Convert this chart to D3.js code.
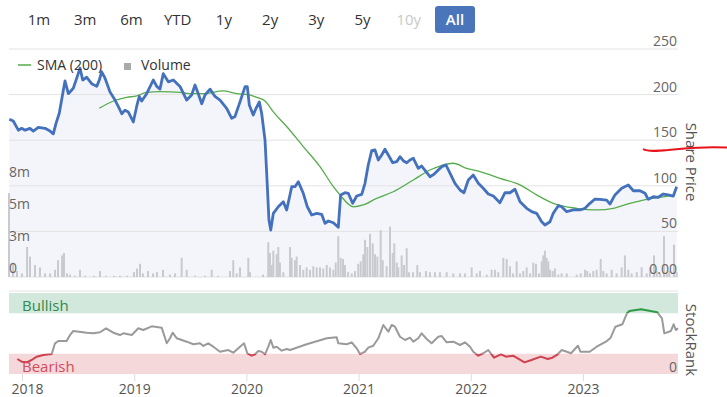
<!DOCTYPE html>
<html><head><meta charset="utf-8">
<script src="https://cdn.jsdelivr.net/npm/d3@7/dist/d3.min.js"></script>
<style>
html,body{margin:0;padding:0;background:#fff;}
svg{display:block;font-family:"Open Sans",Roboto,sans-serif;}
</style></head>
<body>
<svg id="c" width="727" height="397"></svg>
<script>
// ---- data (time as decimal years) ----
const rangeButtons = ["1m","3m","6m","YTD","1y","2y","3y","5y","10y","All"];
const yearTicks = [2018,2019,2020,2021,2022,2023];
const priceTicks = [0,50,100,150,200,250];
const volumeTicks = [0, 2.667, 5.333, 8];
const volumeTickLabels = ["0","3m","5m","8m"];

const priceT = [2017.887,2017.922,2017.967,2017.997,2018.027,2018.071,2018.101,2018.145,2018.205,2018.250,2018.279,2018.303,2018.332,2018.383,2018.413,2018.457,2018.493,2018.517,2018.541,2018.577,2018.621,2018.666,2018.689,2018.710,2018.740,2018.784,2018.829,2018.858,2018.889,2018.918,2018.947,2018.992,2019.022,2019.045,2019.067,2019.111,2019.170,2019.201,2019.230,2019.259,2019.304,2019.349,2019.408,2019.468,2019.512,2019.542,2019.571,2019.602,2019.631,2019.676,2019.720,2019.765,2019.824,2019.869,2019.898,2019.943,2019.988,2020.008,2020.026,2020.061,2020.086,2020.115,2020.136,2020.166,2020.181,2020.201,2020.217,2020.240,2020.284,2020.329,2020.359,2020.404,2020.433,2020.463,2020.507,2020.543,2020.582,2020.627,2020.671,2020.701,2020.730,2020.775,2020.819,2020.840,2020.879,2020.908,2020.947,2020.983,2021.028,2021.057,2021.086,2021.117,2021.146,2021.176,2021.206,2021.235,2021.265,2021.304,2021.340,2021.369,2021.398,2021.429,2021.458,2021.488,2021.532,2021.562,2021.601,2021.636,2021.672,2021.710,2021.741,2021.779,2021.808,2021.859,2021.904,2021.939,2021.978,2022.022,2022.067,2022.111,2022.156,2022.201,2022.260,2022.305,2022.349,2022.394,2022.439,2022.498,2022.543,2022.587,2022.632,2022.661,2022.706,2022.735,2022.780,2022.810,2022.855,2022.914,2022.973,2023.018,2023.062,2023.107,2023.152,2023.211,2023.241,2023.285,2023.345,2023.404,2023.449,2023.508,2023.553,2023.582,2023.627,2023.671,2023.716,2023.760,2023.805,2023.835];
const priceV = [173,171,161,163,161,163,160,164,163,160,157,168.5,179.5,215,201,207,220,229,216,219,212,209,216,225,218,203,194,187,179,183,181,170,187,198,193,201,216,209,206,223,214,216,209,194,199.6,210.5,201,190,199.6,206,198,194,185,174,176,192,208.7,208.7,188.6,177.6,185,192,179.5,150,113.7,62.5,51.5,69.8,77,82.6,73.5,99,99,104.5,91.8,77,68,69.8,68.7,58.8,61.4,59.5,54.5,90,92.4,91.8,80.8,88.8,90.6,102.7,122.8,138.5,139.3,128.3,133.8,140,133.8,125.3,126.5,131.9,127.5,125.3,128.3,130.2,119.2,121.7,115.5,110,112.6,117.3,121,122.8,115.5,102.7,95.4,92.4,106.4,111.8,102.7,97.3,91,88.8,81.5,92.4,92.4,96.2,82.6,75.3,71.6,69.8,60.6,57,60.6,69.8,78.2,77,71.6,73.5,73.5,75.3,80.8,85.5,85.2,84.4,80,90,97.3,100.9,94.6,94.6,91.8,85.2,88,87.4,91,90,88.8,99];

const smaT = [2018.689,2018.814,2018.933,2019.022,2019.111,2019.230,2019.408,2019.497,2019.616,2019.794,2019.914,2020.017,2020.092,2020.166,2020.240,2020.359,2020.507,2020.656,2020.775,2020.834,2020.953,2021.042,2021.161,2021.309,2021.488,2021.636,2021.725,2021.844,2021.963,2022.082,2022.260,2022.439,2022.587,2022.735,2022.944,2023.122,2023.272,2023.419,2023.568,2023.686,2023.820];
const smaV = [185,193,197,198.5,202.5,203.2,202.5,201,201,204,201,200,197,193,181,165,143,121,99,90,77,79,86.3,93.5,106.4,117.3,121.7,124.7,119.2,115.5,108.2,101,90,80.8,75.3,73.5,75.3,80.8,85.2,87.4,90];

const volT = [2017.884,2017.920,2017.955,2018.000,2018.045,2018.071,2018.116,2018.160,2018.205,2018.250,2018.294,2018.321,2018.357,2018.374,2018.401,2018.428,2018.472,2018.517,2018.561,2018.642,2018.695,2018.749,2018.820,2018.873,2018.936,2018.998,2019.025,2019.052,2019.078,2019.123,2019.168,2019.203,2019.257,2019.319,2019.364,2019.423,2019.468,2019.542,2019.631,2019.691,2019.747,2019.854,2019.883,2019.914,2019.943,2020.017,2020.032,2020.148,2020.195,2020.210,2020.225,2020.240,2020.270,2020.284,2020.299,2020.329,2020.389,2020.404,2020.433,2020.448,2020.478,2020.507,2020.537,2020.567,2020.596,2020.627,2020.656,2020.685,2020.716,2020.745,2020.775,2020.796,2020.819,2020.840,2020.861,2020.879,2020.906,2020.939,2020.968,2020.997,2021.019,2021.042,2021.057,2021.078,2021.102,2021.126,2021.146,2021.167,2021.197,2021.215,2021.250,2021.280,2021.304,2021.318,2021.340,2021.354,2021.384,2021.405,2021.429,2021.449,2021.485,2021.523,2021.547,2021.601,2021.636,2021.681,2021.725,2021.785,2021.844,2021.904,2021.948,2022.008,2022.053,2022.082,2022.142,2022.186,2022.216,2022.245,2022.290,2022.320,2022.349,2022.376,2022.409,2022.439,2022.468,2022.498,2022.528,2022.557,2022.581,2022.608,2022.632,2022.646,2022.661,2022.676,2022.691,2022.706,2022.730,2022.750,2022.780,2022.810,2022.855,2022.944,2022.980,2023.018,2023.038,2023.062,2023.092,2023.122,2023.158,2023.181,2023.211,2023.256,2023.300,2023.345,2023.374,2023.404,2023.434,2023.479,2023.523,2023.568,2023.597,2023.633,2023.657,2023.686,2023.722,2023.746,2023.769,2023.811,2023.835];
const volV = [7.0,1.2,0.5,0.3,2.5,1.7,1.0,0.8,0.3,0.3,0.6,1.4,1.8,2.0,0.3,0.2,0.1,0.6,0.1,0.1,0.5,0.1,0.1,0.1,0.1,0.4,0.7,1.1,0.3,0.5,0.3,0.4,0.6,0.2,0.3,1.6,0.6,0.1,0.1,0.6,0.1,0.5,1.4,0.3,0.8,1.6,0.4,0.2,2.9,2.0,1.0,2.2,1.9,2.5,1.2,0.4,2.5,1.6,1.4,1.7,1.0,0.6,0.8,0.6,0.9,0.8,0.8,0.7,1.0,0.8,0.6,1.2,3.4,1.6,1.5,1.0,0.4,0.3,0.5,1.1,1.3,1.9,3.1,2.5,3.6,2.8,1.9,1.7,3.9,1.4,0.9,4.2,2.0,2.8,1.2,0.8,1.8,1.0,2.4,0.4,0.4,1.0,0.4,0.5,0.4,0.4,0.4,0.4,0.3,0.3,0.3,0.8,0.3,0.5,0.2,0.6,0.6,0.4,1.6,1.5,0.9,0.3,1.3,0.3,0.5,0.8,0.3,1.2,1.1,0.3,1.3,1.8,2.2,1.6,1.3,0.6,0.5,0.7,0.2,0.3,0.3,0.2,0.3,0.6,0.5,0.3,0.5,0.6,1.5,0.5,0.3,0.6,0.3,0.8,1.8,0.6,0.3,0.4,0.8,0.3,0.8,1.8,0.5,0.3,3.4,0.3,0.5,2.7,0.4];

const rankT = [2017.958,2017.997,2018.042,2018.086,2018.131,2018.190,2018.265,2018.294,2018.324,2018.398,2018.428,2018.457,2018.577,2018.635,2018.695,2018.749,2018.814,2018.873,2018.903,2018.978,2019.037,2019.081,2019.156,2019.245,2019.290,2019.319,2019.343,2019.379,2019.468,2019.527,2019.586,2019.616,2019.660,2019.705,2019.765,2019.839,2019.883,2019.943,2019.979,2020.008,2020.047,2020.077,2020.106,2020.136,2020.166,2020.195,2020.217,2020.240,2020.270,2020.315,2020.359,2020.389,2020.537,2020.716,2020.805,2020.819,2020.894,2020.939,2020.983,2021.013,2021.057,2021.086,2021.131,2021.176,2021.220,2021.265,2021.295,2021.324,2021.369,2021.414,2021.458,2021.488,2021.532,2021.562,2021.607,2021.651,2021.710,2021.741,2021.785,2021.844,2021.904,2021.948,2021.993,2022.022,2022.067,2022.111,2022.156,2022.207,2022.269,2022.314,2022.376,2022.479,2022.541,2022.624,2022.686,2022.727,2022.768,2022.811,2022.893,2022.955,2022.977,2023.060,2023.122,2023.205,2023.247,2023.289,2023.351,2023.392,2023.414,2023.517,2023.662,2023.704,2023.725,2023.784,2023.808,2023.829,2023.847];
const rankV = [18.5,15.2,14.4,17.3,21.4,23.5,24.7,37.9,40.7,40.7,48.1,53.1,51,50.2,51.5,56.4,51,48.1,50.2,48.1,56.4,54.3,58.9,57.2,37.9,44.1,51,44.1,39.9,36.7,37.9,34.6,37.9,33.7,27.5,29.6,26.3,33.7,37.9,25.6,22.6,24.3,28.4,27.5,24.3,33.7,42,32.5,33.7,28.8,30.9,29.6,36.7,44.1,45.3,37.9,36.7,39.1,31.7,24.6,27.5,32.5,34.9,44.1,60.5,52.2,60.5,58.4,46,42,44.8,39.9,44.1,50.2,43.2,37.9,46,46.9,39.1,39.9,35.8,39.1,33.7,27.5,22.6,25.6,29.6,20.1,24.3,21.4,22.6,14.4,17.3,21.4,18.5,20.1,23.5,29.6,25.6,34.9,27.5,27.5,33.7,39.9,44.8,58.4,61.4,74.9,77.8,79.9,76.2,68.8,50.2,53.1,61.4,54.3,56.4];

// ---- drawing ----
const svg = d3.select("#c");
const L = 9, R = 678;
const x = d3.scaleLinear().domain([2017.884, 2023.847]).range([L, R]);
const yP = d3.scaleLinear().domain([0, 250]).range([277, 49]);
const yV = d3.scaleLinear().domain([0, 8]).range([277, 181]);
const yR = d3.scaleLinear().domain([0, 100]).range([374, 293]);

// range buttons
const btnX = d3.scalePoint().domain(rangeButtons).range([39, 455]);
rangeButtons.forEach(b => {
  const cx = btnX(b);
  if (b === "All") {
    svg.append("rect").attr("x", cx - 20).attr("y", 6).attr("width", 40).attr("height", 27)
      .attr("rx", 3).attr("fill", "#4a75ba");
  }
  svg.append("text").attr("x", cx).attr("y", 25).attr("text-anchor", "middle")
    .attr("font-size", 15)
    .attr("font-weight", b === "All" ? 600 : 400)
    .attr("fill", b === "All" ? "#fff" : (b === "10y" ? "#c8c8c8" : "#333"))
    .text(b);
});

const pricePts = priceT.map((t, i) => [t, priceV[i]]);
const smaPts = smaT.map((t, i) => [t, smaV[i]]);
const rankPts = rankT.map((t, i) => [t, rankV[i]]);

// price area fill
svg.append("path").datum(pricePts)
  .attr("d", d3.area().x(d => x(d[0])).y0(yP(0)).y1(d => yP(d[1])))
  .attr("fill", "#f3f5fa");

// grid
svg.selectAll(".grid").data(priceTicks).join("line")
  .attr("x1", L).attr("x2", R).attr("y1", d => yP(d)).attr("y2", d => yP(d))
  .attr("stroke", "#e3e3e3").attr("stroke-width", 1);

// volume bars
svg.append("g").selectAll("rect").data(volT.map((t, i) => [t, volV[i]])).join("rect")
  .attr("x", d => x(d[0]) - 1).attr("width", 2)
  .attr("y", d => yV(d[1])).attr("height", d => yV(0) - yV(d[1]))
  .attr("fill", "#c9cad0");

// SMA
svg.append("path").datum(smaPts)
  .attr("d", d3.line().x(d => x(d[0])).y(d => yP(d[1])).curve(d3.curveMonotoneX))
  .attr("fill", "none").attr("stroke", "#55ad4a").attr("stroke-width", 1.3);

// price line
svg.append("path").datum(pricePts)
  .attr("d", d3.line().x(d => x(d[0])).y(d => yP(d[1])))
  .attr("fill", "none").attr("stroke", "#4471bd").attr("stroke-width", 2.8)
  .attr("stroke-linejoin", "round");

// price axis labels (right)
priceTicks.forEach(v => {
  svg.append("text").attr("x", 677).attr("y", yP(v) - 3).attr("text-anchor", "end")
    .attr("font-size", 14).attr("fill", "#666")
    .text(v === 0 ? "0.00" : v);
});
// volume axis labels (left)
volumeTicks.forEach((v, i) => {
  svg.append("text").attr("x", 9).attr("y", yV(v) - 4)
    .attr("font-size", 14).attr("fill", "#666").text(volumeTickLabels[i]);
});

// axis titles
svg.append("text").attr("transform", "translate(686,162) rotate(90)")
  .attr("text-anchor", "middle").attr("font-size", 15).attr("fill", "#555").text("Share Price");
svg.append("text").attr("transform", "translate(686,340) rotate(90)")
  .attr("text-anchor", "middle").attr("font-size", 15).attr("fill", "#555").text("StockRank");

// legend
svg.append("line").attr("x1", 18).attr("x2", 31).attr("y1", 65).attr("y2", 65)
  .attr("stroke", "#55ad4a").attr("stroke-width", 1.5);
svg.append("text").attr("x", 37).attr("y", 70).attr("font-size", 14).attr("fill", "#333").text("SMA (200)");
svg.append("rect").attr("x", 124).attr("y", 63).attr("width", 7).attr("height", 7).attr("fill", "#aaa");
svg.append("text").attr("x", 141).attr("y", 70).attr("font-size", 14).attr("fill", "#333").text("Volume");

// ---- StockRank panel ----
svg.append("line").attr("x1", L).attr("x2", R).attr("y1", 291).attr("y2", 291)
  .attr("stroke", "#e3e3e3");
svg.append("rect").attr("x", L).attr("width", R - L).attr("y", yR(100)).attr("height", yR(75) - yR(100))
  .attr("fill", "#d3e8dc");
svg.append("rect").attr("x", L).attr("width", R - L).attr("y", yR(25)).attr("height", yR(0) - yR(25))
  .attr("fill", "#f5d8da");
svg.append("text").attr("x", 22).attr("y", 311).attr("font-size", 15).attr("fill", "#2f8a4c").text("Bullish");
svg.append("text").attr("x", 22).attr("y", 372).attr("font-size", 15).attr("fill", "#d34a5c").text("Bearish");
svg.append("text").attr("x", 677).attr("y", 372).attr("text-anchor", "end")
  .attr("font-size", 14).attr("fill", "#666").text("0");

const defs = svg.append("defs");
const clips = [
  ["cg", yR(100) - 10, yR(75)],
  ["cm", yR(75), yR(25)],
  ["cr", yR(25), yR(0) + 10]
];
clips.forEach(c => {
  defs.append("clipPath").attr("id", c[0]).append("rect")
    .attr("x", 0).attr("width", 727).attr("y", c[1]).attr("height", c[2] - c[1]);
});
const rankLine = d3.line().x(d => x(d[0])).y(d => yR(d[1]));
[["cg", "#2d9a45"], ["cm", "#9a9a9a"], ["cr", "#d0404f"]].forEach(c => {
  svg.append("path").datum(rankPts).attr("d", rankLine)
    .attr("clip-path", `url(#${c[0]})`)
    .attr("fill", "none").attr("stroke", c[1]).attr("stroke-width", 2).attr("stroke-linejoin", "round");
});

// x axis
const xa = svg.append("g").attr("transform", `translate(0,${yR(0)})`)
  .call(d3.axisBottom(x).tickValues(yearTicks).tickFormat(d3.format("d")).tickSize(7).tickPadding(3));
xa.select(".domain").remove();
xa.selectAll(".tick line").attr("stroke", "#ddd");
xa.selectAll(".tick text").attr("font-size", 14).attr("fill", "#555")
  .attr("font-family", "'Open Sans',sans-serif")
  .attr("dx", d => d === 2018 ? 5 : 0);

// hand-drawn red annotation stroke
svg.append("path")
  .attr("d", "M643,149 C648,152 658,151 668,150 C680,148.5 700,146.5 727,147.5")
  .attr("fill", "none").attr("stroke", "#e8141c").attr("stroke-width", 2);
</script>
</body></html>
